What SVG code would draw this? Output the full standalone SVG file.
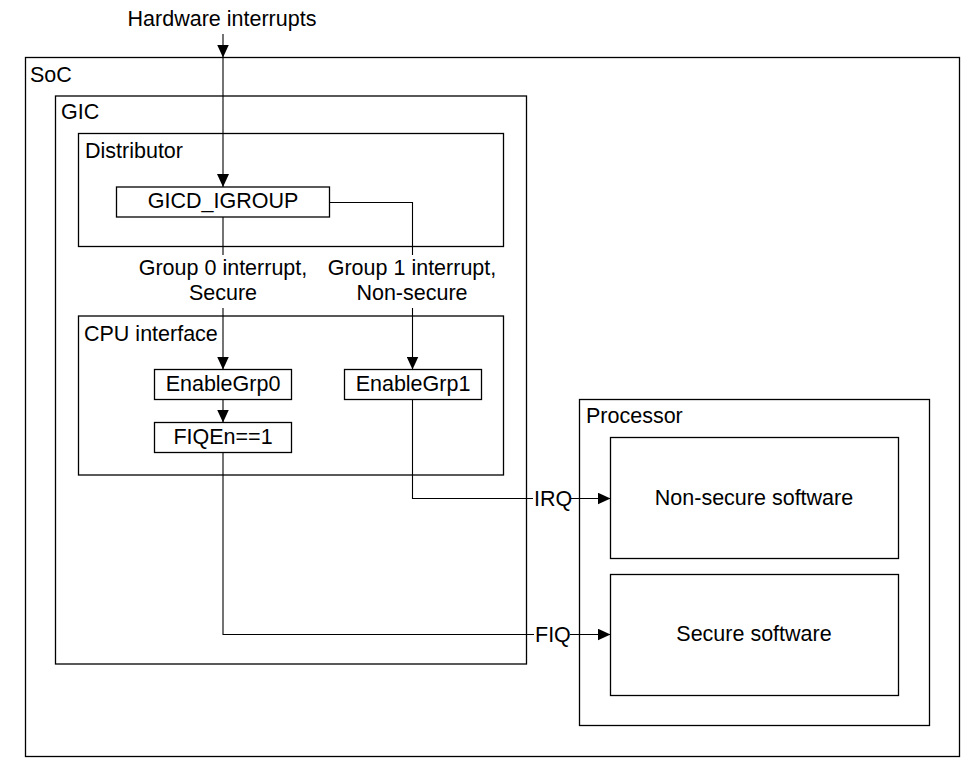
<svg xmlns="http://www.w3.org/2000/svg" width="972" height="770" viewBox="0 0 972 770">
<style>
.box{fill:none;stroke:#000;stroke-width:1.3}
.ln{fill:none;stroke:#000;stroke-width:1.1}
text{font-family:"Liberation Sans",Arial,sans-serif;font-size:21.5px;fill:#000}
.c{text-anchor:middle}
</style>
<defs>
<marker id="ah" markerUnits="userSpaceOnUse" markerWidth="14" markerHeight="12" refX="13" refY="6" orient="auto">
<path d="M0,0 L13,6 L0,12 Z" fill="#000"/>
</marker>
</defs>
<rect width="972" height="770" fill="#fff"/>
<g id="soc"><rect class="box" x="25.5" y="57.5" width="934" height="699"/><text x="30" y="82">SoC</text></g>
<g id="gic"><rect class="box" x="55.5" y="96" width="471" height="568"/><text x="61" y="119">GIC</text></g>
<g id="distributor"><rect class="box" x="78.5" y="133.5" width="425" height="113"/><text x="85" y="158">Distributor</text></g>
<g id="gicd_igroup"><rect class="box" x="116.5" y="187" width="213" height="30"/><text class="c" x="223" y="208">GICD_IGROUP</text></g>
<g id="cpu_interface"><rect class="box" x="78.5" y="316" width="425" height="159"/><text x="84" y="341">CPU interface</text></g>
<g id="enablegrp0"><rect class="box" x="154.5" y="369.5" width="137" height="30"/><text class="c" x="223" y="391">EnableGrp0</text></g>
<g id="enablegrp1"><rect class="box" x="344.5" y="369.5" width="137" height="30"/><text class="c" x="413" y="391">EnableGrp1</text></g>
<g id="fiqen"><rect class="box" x="154.5" y="422.5" width="137" height="30"/><text class="c" x="223" y="444">FIQEn==1</text></g>
<g id="processor"><rect class="box" x="579.5" y="399.5" width="350" height="326"/><text x="586" y="423">Processor</text></g>
<g id="nonsecure_sw"><rect class="box" x="610.5" y="437.5" width="288" height="121"/><text class="c" x="754" y="505">Non-secure software</text></g>
<g id="secure_sw"><rect class="box" x="610.5" y="574.5" width="288" height="121"/><text class="c" x="754" y="641">Secure software</text></g>
<g id="connectors">
<text class="c" x="222" y="26">Hardware interrupts</text>
<line class="ln" x1="223" y1="34" x2="223" y2="57.5" marker-end="url(#ah)"/>
<line class="ln" x1="223" y1="57.5" x2="223" y2="187" marker-end="url(#ah)"/>
<line class="ln" x1="223" y1="217" x2="223" y2="255"/>
<polyline class="ln" points="329.5,202.5 412.5,202.5 412.5,255"/>
<text class="c" x="223" y="275">Group 0 interrupt,</text>
<text class="c" x="223" y="300">Secure</text>
<text class="c" x="412" y="275">Group 1 interrupt,</text>
<text class="c" x="412" y="300">Non-secure</text>
<line class="ln" x1="223" y1="308" x2="223" y2="369.5" marker-end="url(#ah)"/>
<line class="ln" x1="412.5" y1="308" x2="412.5" y2="369.5" marker-end="url(#ah)"/>
<line class="ln" x1="223" y1="399.5" x2="223" y2="422.5" marker-end="url(#ah)"/>
<polyline class="ln" points="412.5,399.5 412.5,498.5 533,498.5"/>
<text x="534" y="506">IRQ</text>
<line class="ln" x1="571" y1="498.5" x2="610.5" y2="498.5" marker-end="url(#ah)"/>
<polyline class="ln" points="223,452.5 223,634.5 534,634.5"/>
<text x="535" y="642">FIQ</text>
<line class="ln" x1="570" y1="634.5" x2="610.5" y2="634.5" marker-end="url(#ah)"/>
</g>
</svg>
